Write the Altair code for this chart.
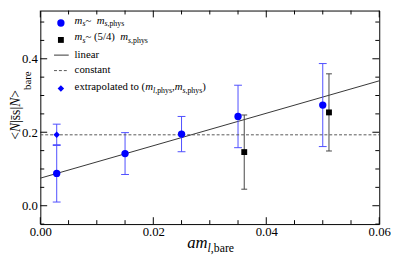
import altair as alt
import pandas as pd

# ---------------- data ----------------
phys_x = [0.0029, 0.015, 0.025, 0.035, 0.050]
phys_y = [0.088, 0.142, 0.195, 0.243, 0.274]
phys_err = [0.078, 0.057, 0.048, 0.085, 0.113]

heavy_x = [0.0361, 0.0511]
heavy_y = [0.146, 0.254]
heavy_err = [0.101, 0.105]

extrap_x = [0.0029]
extrap_y = [0.193]
extrap_err = [0.029]

linear_x = [0.0, 0.06]
linear_y = [0.075, 0.340]

const_x = [0.0, 0.06]
const_y = [0.193, 0.193]

x_major = [0.0, 0.02, 0.04, 0.06]
x_minor = [0.005, 0.01, 0.015, 0.025, 0.03, 0.035, 0.045, 0.05, 0.055]
y_major = [0.0, 0.2, 0.4]
y_minor = [-0.05, 0.05, 0.1, 0.15, 0.25, 0.3, 0.35, 0.45, 0.5]

# ---------------- layout ----------------
W, H = 346, 218
OX, OY = 41, 8          # absolute position of the plot area
FONT = "Liberation Serif"
BLUE = "#0000ff"
EBLUE = "#4d4dff"

xs = alt.Scale(domain=[0.0, 0.06], nice=False, zero=False)
ys = alt.Scale(domain=[-0.05, 0.5313], nice=False, zero=False)

x_axis = alt.Axis(values=x_major, format=".2f", ticks=False, tickSize=0, domain=False,
                  grid=False, labelFont=FONT, labelFontSize=13, labelColor="black",
                  labelPadding=2, labelFlush=False, labelOverlap=False, title=None)
y_axis = alt.Axis(values=y_major, format=".1f", ticks=False, tickSize=0, domain=False,
                  grid=False, labelFont=FONT, labelFontSize=13, labelColor="black",
                  labelPadding=3, labelFlush=False, labelOverlap=False, title=None)

X = lambda f: alt.X(f, type="quantitative", scale=xs, axis=x_axis)
Y = lambda f: alt.Y(f, type="quantitative", scale=ys, axis=y_axis)


def err_df(x, y, e):
    return pd.DataFrame({"x": x, "y": y,
                         "lo": [a - b for a, b in zip(y, e)],
                         "hi": [a + b for a, b in zip(y, e)]})


df_phys = err_df(phys_x, phys_y, phys_err)
df_heavy = err_df(heavy_x, heavy_y, heavy_err)
df_ext = err_df(extrap_x, extrap_y, extrap_err)


def errbars(df, color, cap):
    b = alt.Chart(df)
    bar = b.mark_rule(color=color, strokeWidth=1).encode(x=X("x"), y=Y("lo"), y2="hi")
    top = b.mark_rule(color=color, strokeWidth=1, xOffset=-cap, x2Offset=cap).encode(
        x=X("x"), x2="x", y=Y("hi"))
    bot = b.mark_rule(color=color, strokeWidth=1, xOffset=-cap, x2Offset=cap).encode(
        x=X("x"), x2="x", y=Y("lo"))
    return [bar, top, bot]


df_lin = pd.DataFrame({"x": linear_x, "y": linear_y})
df_const = pd.DataFrame({"x": const_x, "y": const_y})

linear = alt.Chart(df_lin).mark_line(color="#333333", strokeWidth=1).encode(
    x=X("x"), y=Y("y"))
const = alt.Chart(df_const).mark_line(color="#555555", strokeWidth=1, strokeDash=[3, 2]).encode(
    x=X("x"), y=Y("y"))

pts_phys = alt.Chart(df_phys).mark_point(shape="circle", filled=True, size=56, color=BLUE,
                                         opacity=1).encode(x=X("x"), y=Y("y"))
pts_heavy = alt.Chart(df_heavy).mark_point(shape="square", filled=True, size=36, color="black",
                                           opacity=1).encode(x=X("x"), y=Y("y"))
pts_ext = alt.Chart(df_ext).mark_point(shape="diamond", filled=True, size=44, color=BLUE,
                                       opacity=1).encode(x=X("x"), y=Y("y"))


# inward ticks on all four sides
def xticks(vals, ln):
    d = alt.Chart(pd.DataFrame({"v": vals}))
    return [d.mark_rule(color="black").encode(x=X("v"), y=alt.value(H), y2=alt.value(H - ln)),
            d.mark_rule(color="black").encode(x=X("v"), y=alt.value(0), y2=alt.value(ln))]


def yticks(vals, ln):
    d = alt.Chart(pd.DataFrame({"v": vals}))
    return [d.mark_rule(color="black").encode(y=Y("v"), x=alt.value(0), x2=alt.value(ln)),
            d.mark_rule(color="black").encode(y=Y("v"), x=alt.value(W), x2=alt.value(W - ln))]


# ---------------- rich text helper (Times-like advance widths) ----------------
REG = {' ': 250, '(': 333, ')': 333, '/': 278, ',': 250, '~': 541, '<': 564, '>': 564,
       '|': 200, 'a': 444, 'b': 500, 'c': 444, 'd': 500, 'e': 444, 'h': 500, 'i': 278,
       'l': 278, 'n': 500, 'o': 500, 'p': 500, 'r': 333, 's': 389, 't': 278, 'x': 500,
       'y': 500, 'm': 778, 'N': 722, '4': 500, '5': 500}
ITA = {'m': 722, 's': 389, 'l': 278, 'a': 500, 'N': 667}


def wid(text, size, italic):
    tbl = ITA if italic else REG
    tot = 0
    for c in text:
        if 0x300 <= ord(c) <= 0x36f:
            continue
        tot += tbl.get(c, REG.get(c, 500))
    return tot * size / 1000


def rich(pieces, x0, y0, angle=0):
    out = []
    pos = x0 if angle == 0 else y0
    for text, size, italic, shift in pieces:
        if angle == 0:
            px, py = pos, y0 + shift
        else:
            px, py = x0 + shift, pos
        out.append(alt.Chart(pd.DataFrame({"t": [text]})).mark_text(
            align="left", baseline="alphabetic", font=FONT, fontSize=size,
            fontStyle="italic" if italic else "normal", color="black", angle=angle
        ).encode(x=alt.value(px - OX), y=alt.value(py - OY), text="t:N"))
        w = wid(text, size, italic)
        pos = pos + w if angle == 0 else pos - w
    return out


M, S = 11, 8
TX = 76
legend_text = []
legend_text += rich([("m", M, True, 0), ("s", S, True, 2.5), (" ~ ", M, False, 0),
                     ("m", M, True, 0), ("s", S, True, 2.5), (",phys", S, False, 2.5)], TX, 21.5)
legend_text += rich([("m", M, True, 0), ("s", S, True, 2.5), (" ~ (5/4) ", M, False, 0),
                     ("m", M, True, 0), ("s", S, True, 2.5), (",phys", S, False, 2.5)], TX, 38.5)
legend_text += rich([("linear", M, False, 0)], TX, 56)
legend_text += rich([("constant", M, False, 0)], TX, 72)
legend_text += rich([("extrapolated to (", M, False, 0), ("m", M, True, 0), ("l", S, True, 2.5),
                     (",phys", S, False, 2.5), (",", M, False, 0), ("m", M, True, 0),
                     ("s", S, True, 2.5), (",phys", S, False, 2.5), (")", M, False, 0)], TX, 89.5)

one = alt.Chart(pd.DataFrame({"k": [0]}))
legend_sym = [
    one.mark_point(shape="circle", filled=True, size=56, color=BLUE, opacity=1).encode(
        x=alt.value(62 - OX), y=alt.value(20.7 - OY)),
    one.mark_point(shape="square", filled=True, size=36, color="black", opacity=1).encode(
        x=alt.value(62 - OX), y=alt.value(38 - OY)),
    one.mark_rule(color="#333333").encode(x=alt.value(55 - OX), x2=alt.value(70 - OX),
                                          y=alt.value(53.5 - OY)),
    one.mark_rule(color="#555555", strokeDash=[3, 2]).encode(
        x=alt.value(55 - OX), x2=alt.value(70 - OX), y=alt.value(69.3 - OY)),
    one.mark_point(shape="diamond", filled=True, size=44, color=BLUE, opacity=1).encode(
        x=alt.value(62 - OX), y=alt.value(87.5 - OY)),
]

# axis titles
titles = []
titles += rich([("a", 17, True, 0), ("m", 17, True, 0), ("l", 12, True, 5),
                (",bare", 12, False, 5)], 191, 250)
titles += rich([("<", 14, False, 0), ("N", 14, True, 0), ("|s\u0304s|", 14, False, 0),
                ("N", 14, True, 0), (">", 14, False, 0), ("bare", 11, False, 11)],
               20, 140, angle=270)

layers = ([linear] + xticks(x_major, 7) + xticks(x_minor, 4) + yticks(y_major, 7)
          + yticks(y_minor, 4)
          + errbars(df_phys, EBLUE, 4) + errbars(df_ext, EBLUE, 4)
          + errbars(df_heavy, "#444444", 3)
          + [const, pts_phys, pts_heavy, pts_ext]
          + legend_sym + legend_text + titles)

chart = alt.layer(*layers).properties(
    width=W, height=H,
    padding={"left": OX - 8, "top": OY - 8, "right": 12, "bottom": 31},
    autosize=alt.AutoSizeParams(type="none"),
    background="white",
).configure_view(stroke="black", strokeWidth=1)

chart.save("out.html", embed_options={"renderer": "svg", "actions": False})
